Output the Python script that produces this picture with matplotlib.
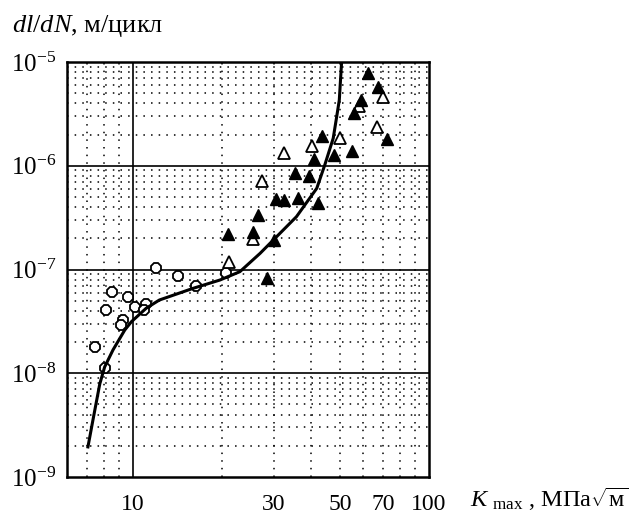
import matplotlib
matplotlib.use("Agg")
import matplotlib.pyplot as plt

# open circles
circ_k = [12.0, 14.2, 16.4, 20.7, 8.54, 9.64, 10.16, 11.06, 10.95, 8.15, 9.27, 9.11, 7.44, 8.04]
circ_v = [1.03e-7, 8.65e-8, 6.93e-8, 9.2e-8, 6.1e-8, 5.47e-8, 4.38e-8, 4.62e-8, 4.07e-8,
          4.07e-8, 3.26e-8, 2.92e-8, 1.80e-8, 1.12e-8]

# open triangles
otri_k = [21.15, 25.4, 27.3, 32.4, 40.3, 49.9, 58.2, 67.0, 69.9]
otri_v = [1.19e-7, 1.95e-7, 7.13e-7, 1.34e-6, 1.56e-6, 1.84e-6, 3.77e-6, 2.36e-6, 4.63e-6]

# filled triangles
ftri_k = [21.0, 25.4, 26.5, 28.3, 29.9, 30.4, 32.4, 36.0, 35.3, 39.4, 42.3, 40.8, 43.4,
          47.7, 55.0, 55.7, 58.8, 62.4, 67.4, 72.4]
ftri_v = [2.18e-7, 2.31e-7, 3.35e-7, 8.22e-8, 1.92e-7, 4.75e-7, 4.68e-7, 4.92e-7, 8.46e-7,
          7.96e-7, 4.35e-7, 1.15e-6, 1.94e-6, 1.28e-6, 1.38e-6, 3.2e-6, 4.3e-6, 7.88e-6,
          5.78e-6, 1.82e-6]

# fitted curve
curve_k = [7.06, 7.34, 7.74, 8.04, 8.58, 9.40, 9.90, 11.1, 12.3, 16.0, 19.7, 23.0, 26.9,
           29.8, 35.7, 41.8, 44.5, 47.5, 48.8, 49.8, 50.7]
curve_v = [1.95e-9, 3.54e-9, 7.88e-9, 1.15e-8, 1.68e-8, 2.61e-8, 3.14e-8, 4.23e-8, 5.08e-8,
           6.59e-8, 7.92e-8, 9.53e-8, 1.43e-7, 1.92e-7, 3.23e-7, 6.06e-7, 1.02e-6, 1.84e-6,
           2.97e-6, 4.30e-6, 1.0e-5]

x_ticks = [10, 30, 50, 70, 100]
y_ticks = [1e-9, 1e-8, 1e-7, 1e-6, 1e-5]
y_ticklabels = [r"$10^{-9}$", r"$10^{-8}$", r"$10^{-7}$", r"$10^{-6}$", r"$10^{-5}$"]

plt.rcParams["font.family"] = ["Liberation Serif", "DejaVu Serif"]
plt.rcParams["mathtext.fontset"] = "custom"
plt.rcParams["mathtext.rm"] = "Liberation Serif"
plt.rcParams["mathtext.it"] = "Liberation Serif:italic"
plt.rcParams["mathtext.bf"] = "Liberation Serif:bold"

fig = plt.figure(figsize=(6.42, 5.15), dpi=100)
ax = fig.add_axes([67 / 642, 1 - 477 / 515, (429 - 67) / 642, (477 - 62) / 515])
ax.set_xscale("log")
ax.set_yscale("log")
ax.set_xlim(6, 100)
ax.set_ylim(1e-9, 1e-5)

# grid drawn by hand: solid at decades, dotted in between
dot = (0, (1, 4))
for xv in [7, 8, 9, 20, 30, 40, 50, 60, 70, 80, 90]:
    ax.axvline(xv, color="black", lw=1.1, ls=dot, zorder=1)
ax.axvline(10, color="black", lw=1.2, zorder=1)
for dec in [1e-9, 1e-8, 1e-7, 1e-6]:
    for m in range(2, 10):
        ax.axhline(dec * m, color="black", lw=1.1, ls=dot, zorder=1)
for yv in [1e-8, 1e-7, 1e-6]:
    ax.axhline(yv, color="black", lw=1.2, zorder=1)

ax.plot(circ_k, circ_v, ls="none", marker="8", ms=7.5, mfc="white", mec="black", mew=1.3, zorder=3)
ax.plot(otri_k, otri_v, ls="none", marker="^", ms=9, mfc="white", mec="black", mew=1.3, zorder=3)
ax.plot(ftri_k, ftri_v, ls="none", marker="^", ms=9, mfc="black", mec="black", mew=1.0, zorder=3)
ax.plot(curve_k, curve_v, color="black", lw=2.2, zorder=4)

ax.minorticks_off()
ax.set_xticks(x_ticks)
ax.set_xticklabels([str(v) for v in x_ticks])
ax.set_yticks(y_ticks)
ax.set_yticklabels(y_ticklabels)
ax.tick_params(axis="x", length=0, pad=12, labelsize=17)
ax.tick_params(axis="y", length=0, pad=8, labelsize=18)
for s in ax.spines.values():
    s.set_linewidth(1.8)

fig.text(12 / 642, 1 - 32 / 515, r"$dl/dN$, м/цикл", fontsize=19, ha="left", va="baseline")
fig.text(470 / 642, 1 - 507 / 515, r"$K$ $_{\rm max}$ , МПа$\sqrt{\rm м}$", fontsize=17.5,
         ha="left", va="baseline")

fig.savefig("out.png", dpi=100)
